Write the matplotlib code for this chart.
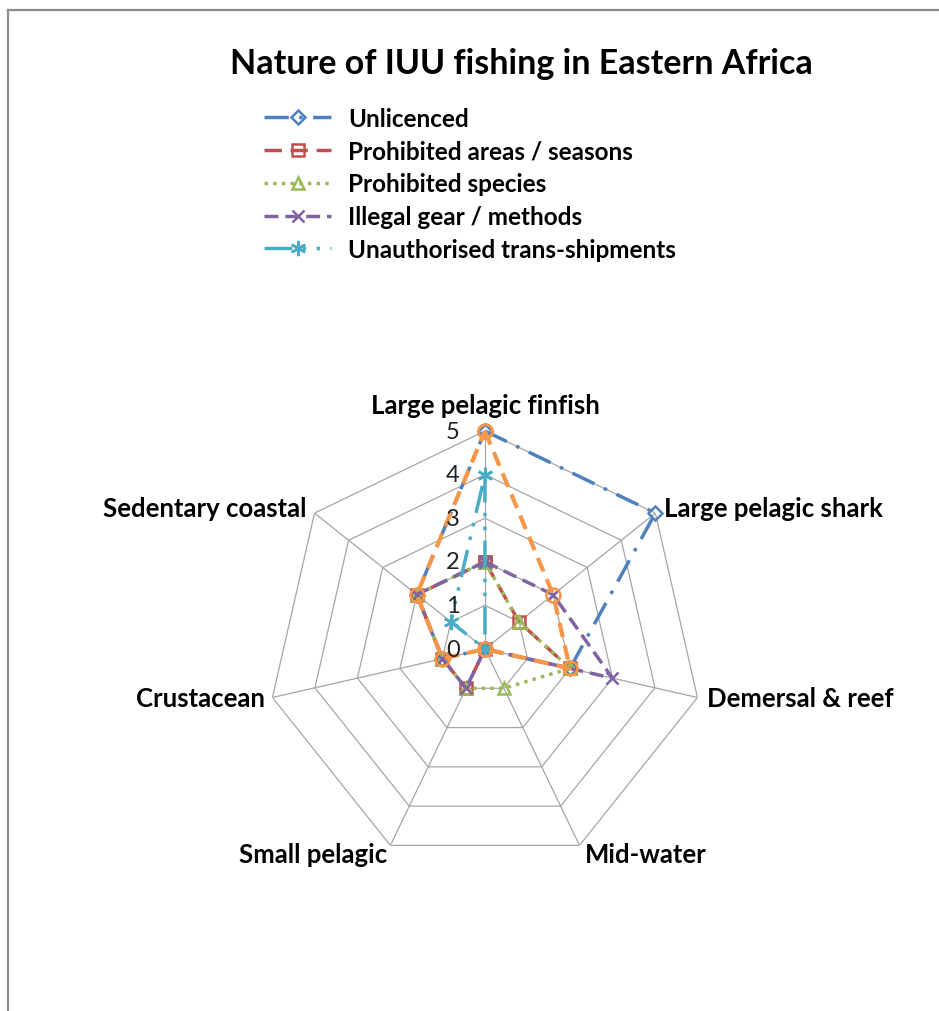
import numpy as np
import matplotlib
matplotlib.use('Agg')
import matplotlib.pyplot as plt
from matplotlib.lines import Line2D

plt.rcParams['font.family'] = ['Lato', 'DejaVu Sans']

categories = ['Large pelagic finfish', 'Large pelagic shark', 'Demersal & reef',
              'Mid-water', 'Small pelagic', 'Crustacean', 'Sedentary coastal']

unlicenced = [5, 5, 2, 0, 0, 1, 2]
prohibited_areas = [2, 1, 2, 0, 1, 1, 2]
prohibited_species = [2, 1, 2, 1, 1, 1, 2]
illegal_gear = [2, 2, 3, 0, 1, 1, 2]
transshipments = [4, 0, 0, 0, 0, 0, 1]
other = [5, 2, 2, 0, 0, 1, 2]

ticks = [0, 1, 2, 3, 4, 5]

n = len(categories)
theta = np.arange(n) * 2 * np.pi / n
theta_c = np.append(theta, theta[0])


def closed(v):
    return np.append(v, v[0])


fig = plt.figure(figsize=(9.39, 10.12), dpi=100)
ax = fig.add_axes([0.2843, 0.1423, 0.4643, 0.4308], projection='polar')
ax.set_theta_zero_location('N')
ax.set_theta_direction(-1)
ax.set_ylim(0, 5)
ax.axis('off')

# heptagon web
grid_col = '#a6a6a6'
for r in ticks[1:]:
    ax.plot(theta_c, [r] * (n + 1), color=grid_col, lw=0.9, zorder=1)
for t in theta:
    ax.plot([t, t], [0, 5], color=grid_col, lw=0.9, zorder=1)

series = [
    ('Unlicenced', unlicenced, '#4f81bd', (0, (7, 3, 1, 3)), 'D', 7, 2.5),
    ('Prohibited areas / seasons', prohibited_areas, '#c0504d', (0, (5, 2.5)), 's', 9, 2.5),
    ('Prohibited species', prohibited_species, '#9bbb59', (0, (1, 1.5)), '^', 9, 2.5),
    ('Illegal gear / methods', illegal_gear, '#8064a2', (0, (4, 2)), 'x', 9, 2.5),
    ('Unauthorised trans-shipments', transshipments, '#4bacc6', (0, (8, 3, 1, 3, 1, 3)), (6, 2, 0), 11, 2.5),
    ('_other', other, '#f79646', (0, (3.5, 2)), 'o', 10, 3),
]

handles = []
for name, vals, col, ls, mk, ms, lw in series:
    line, = ax.plot(theta_c, closed(vals), color=col, linestyle=ls, lw=lw,
                    marker=mk, ms=ms, mfc='none', mec=col, mew=1.8,
                    label=name, zorder=3, clip_on=False)
    if not name.startswith('_'):
        handles.append(line)

# axis value labels up the first spoke
for r in ticks:
    ax.annotate(str(r), xy=(0, r), xytext=(-23, 0), textcoords='offset points',
                ha='center', va='center', fontsize=17, color='#222222')

# category labels around the web
label_offsets = [(0, 19), (6, 3.6), (7, 0), (4, -6.2), (-2.4, -6.2), (-5.4, 0), (-5.5, 3.6)]
label_ha = ['center', 'left', 'left', 'left', 'right', 'right', 'right']
for t, name, off, ha in zip(theta, categories, label_offsets, label_ha):
    ax.annotate(name, xy=(t, 5), xytext=off, textcoords='offset points',
                ha=ha, va='center', fontsize=18.5, fontweight='bold', color='black')

fig.text(0.555, 0.937, 'Nature of IUU fishing in Eastern Africa', ha='center', va='center',
         fontsize=24.5, fontweight='bold')

fig.legend(handles=handles, loc='upper left', bbox_to_anchor=(0.258, 0.915),
           frameon=False, prop={'size': 17.5, 'weight': 'bold'},
           handlelength=2.75, handletextpad=0.7, labelspacing=0.4)

# chart area border (top and left edges visible)
fig.add_artist(Line2D([0.0085, 0.0085], [0.0, 0.989], color='#8c8c8c', lw=1.6))
fig.add_artist(Line2D([0.0085, 1.0], [0.989, 0.989], color='#8c8c8c', lw=1.6))

fig.savefig('out.png', dpi=100)
